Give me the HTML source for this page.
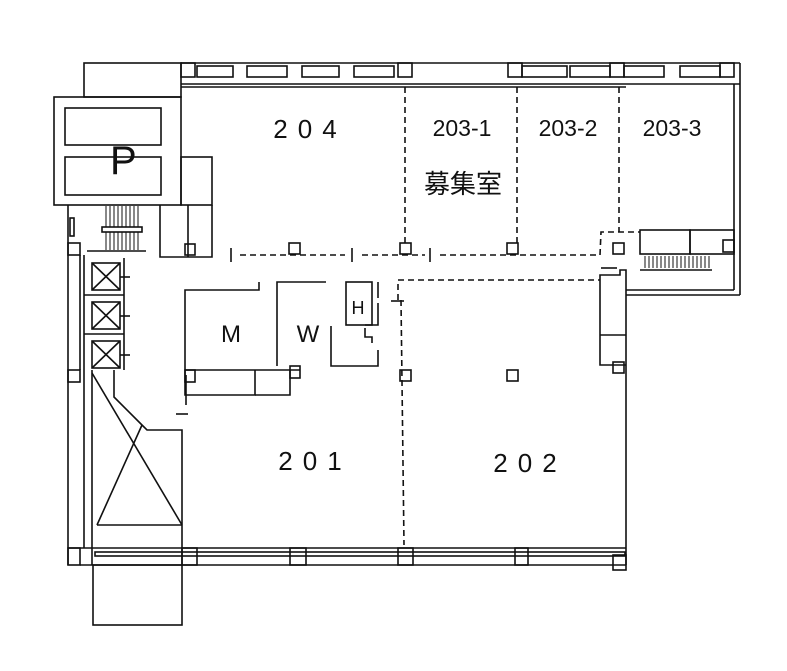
<!DOCTYPE html>
<html><head><meta charset="utf-8"><style>
html,body{margin:0;padding:0;background:#fff;}
svg{display:block}
text{font-family:"Liberation Sans","Noto Sans CJK JP",sans-serif;fill:#111}
</style></head><body>
<svg width="787" height="671" viewBox="0 0 787 671" xmlns="http://www.w3.org/2000/svg">
<g fill="none" stroke="#111" stroke-width="1.6">
<!-- top wall band -->
<line x1="181" y1="63" x2="740" y2="63"/>
<line x1="181" y1="84" x2="740" y2="84"/>
<line x1="181" y1="87" x2="626" y2="87"/>
<rect x="181" y="63" width="14" height="14"/>
<rect x="197" y="66" width="36" height="11"/>
<rect x="247" y="66" width="40" height="11"/>
<rect x="302" y="66" width="37" height="11"/>
<rect x="354" y="66" width="40" height="11"/>
<rect x="398" y="63" width="14" height="14"/>
<rect x="508" y="63" width="14" height="14"/>
<rect x="522" y="66" width="45" height="11"/>
<rect x="570" y="66" width="40" height="11"/>
<rect x="610" y="63" width="14" height="14"/>
<rect x="624" y="66" width="40" height="11"/>
<rect x="680" y="66" width="40" height="11"/>
<rect x="720" y="63" width="14" height="14"/>
<!-- right wall -->
<line x1="740" y1="63" x2="740" y2="295"/>
<line x1="734" y1="84" x2="734" y2="290"/>
<line x1="626" y1="295" x2="740" y2="295"/>
<line x1="626" y1="290" x2="734" y2="290"/>
<!-- top-left boxes -->
<rect x="84" y="63" width="97" height="34"/>
<rect x="54" y="97" width="127" height="108"/>
<rect x="65" y="108" width="96" height="37"/>
<rect x="65" y="157" width="96" height="38"/>
<rect x="181" y="157" width="31" height="48"/>
<polyline points="160,205 160,257 212,257 212,205"/>
<line x1="188" y1="205" x2="188" y2="257"/>
<rect x="185" y="244" width="10" height="11"/>
<!-- stair below P -->
<g stroke-width="1">
<line x1="106" y1="206" x2="106" y2="250"/><line x1="110" y1="206" x2="110" y2="250"/>
<line x1="114" y1="206" x2="114" y2="250"/><line x1="118" y1="206" x2="118" y2="250"/>
<line x1="122" y1="206" x2="122" y2="250"/><line x1="126" y1="206" x2="126" y2="250"/>
<line x1="130" y1="206" x2="130" y2="250"/><line x1="134" y1="206" x2="134" y2="250"/>
<line x1="138" y1="206" x2="138" y2="250"/>
</g>
<rect x="102" y="227" width="40" height="5" fill="#fff"/>
<line x1="87" y1="251" x2="146" y2="251"/>
<!-- left wall -->
<line x1="68" y1="205" x2="68" y2="565"/>
<line x1="80" y1="255" x2="80" y2="370"/>
<rect x="68" y="243" width="12" height="12"/>
<rect x="70" y="218" width="4" height="18"/>
<rect x="68" y="370" width="12" height="12"/>
<line x1="84" y1="255" x2="84" y2="370"/>
<!-- elevators -->
<rect x="92" y="263" width="28" height="27"/>
<line x1="92" y1="263" x2="120" y2="290"/><line x1="120" y1="263" x2="92" y2="290"/>
<rect x="92" y="302" width="28" height="27"/>
<line x1="92" y1="302" x2="120" y2="329"/><line x1="120" y1="302" x2="92" y2="329"/>
<rect x="92" y="341" width="28" height="27"/>
<line x1="92" y1="341" x2="120" y2="368"/><line x1="120" y1="341" x2="92" y2="368"/>
<line x1="84" y1="295" x2="124" y2="295"/><line x1="84" y1="334" x2="124" y2="334"/>
<line x1="124" y1="258" x2="124" y2="370"/>
<line x1="120" y1="277" x2="130" y2="277"/><line x1="120" y1="316" x2="130" y2="316"/><line x1="120" y1="355" x2="130" y2="355"/>
<!-- escalator / triangle -->
<line x1="92" y1="370" x2="92" y2="565"/>
<line x1="84" y1="370" x2="84" y2="548"/>
<polyline points="114,370 114,397 142,425 147,430 182,430 182,565"/>
<line x1="92" y1="373" x2="182" y2="525"/>
<line x1="142" y1="425" x2="97" y2="525"/>
<line x1="97" y1="525" x2="182" y2="525"/>
<line x1="176" y1="414" x2="188" y2="414"/>
<!-- corridor dashed line -->
<line x1="231" y1="248" x2="231" y2="262"/>
<line x1="352" y1="248" x2="352" y2="262"/>
<line x1="430" y1="248" x2="430" y2="262"/>
<g stroke-dasharray="6,4">
<line x1="240" y1="255" x2="345" y2="255"/>
<line x1="362" y1="255" x2="425" y2="255"/>
<line x1="440" y1="255" x2="600" y2="255"/>
<line x1="405" y1="87" x2="405" y2="245"/>
<line x1="517" y1="87" x2="517" y2="245"/>
<line x1="619" y1="87" x2="619" y2="232"/>
<polyline points="600,255 601,232 640,232"/>
<polyline points="398,300 398,280 600,280"/>
<line x1="401" y1="300" x2="404" y2="545"/>
</g>
<line x1="391" y1="301" x2="404" y2="301"/>
<line x1="601" y1="268" x2="617" y2="268"/>
<!-- columns -->
<rect x="289" y="243" width="11" height="11"/>
<rect x="400" y="243" width="11" height="11"/>
<rect x="507" y="243" width="11" height="11"/>
<rect x="613" y="243" width="11" height="11"/>
<rect x="400" y="370" width="11" height="11"/>
<rect x="507" y="370" width="11" height="11"/>
<rect x="613" y="362" width="11" height="11"/>
<!-- right wing stair -->
<rect x="640" y="230" width="50" height="24"/>
<rect x="690" y="230" width="44" height="24"/>
<rect x="723" y="240" width="11" height="12"/>
<g stroke-width="1">
<line x1="645" y1="256" x2="645" y2="268"/><line x1="649" y1="256" x2="649" y2="268"/><line x1="653" y1="256" x2="653" y2="268"/><line x1="657" y1="256" x2="657" y2="268"/><line x1="661" y1="256" x2="661" y2="268"/><line x1="665" y1="256" x2="665" y2="268"/><line x1="669" y1="256" x2="669" y2="268"/><line x1="673" y1="256" x2="673" y2="268"/><line x1="677" y1="256" x2="677" y2="268"/><line x1="681" y1="256" x2="681" y2="268"/><line x1="685" y1="256" x2="685" y2="268"/><line x1="689" y1="256" x2="689" y2="268"/><line x1="693" y1="256" x2="693" y2="268"/><line x1="697" y1="256" x2="697" y2="268"/><line x1="701" y1="256" x2="701" y2="268"/><line x1="705" y1="256" x2="705" y2="268"/><line x1="709" y1="256" x2="709" y2="268"/>
</g>
<line x1="640" y1="270" x2="712" y2="270"/>
<!-- main right wall & column block -->
<polyline points="610,275 620,275 620,270 626,270 626,565"/>
<polyline points="610,275 600,275 600,365 626,365"/>
<line x1="600" y1="335" x2="626" y2="335"/>
<!-- toilet block -->
<polyline points="259,282 259,290 185,290 185,370"/>
<polyline points="326,282 277,282 277,366"/>
<rect x="346" y="282" width="26" height="43"/>
<polyline points="378,282 378,298"/>
<polyline points="378,303 378,325 365,325"/>
<polyline points="331,326 331,366 378,366 378,350"/>
<polyline points="365,328 365,337 372,337 372,343"/>
<line x1="185" y1="370" x2="300" y2="370"/>
<rect x="185" y="370" width="10" height="12"/>
<rect x="290" y="366" width="10" height="12"/>
<polyline points="185,370 185,395 255,395 255,370"/>
<polyline points="255,395 290,395 290,370"/>
<line x1="186" y1="375" x2="186" y2="405"/>
<!-- bottom wall -->
<line x1="68" y1="548" x2="626" y2="548"/>
<line x1="80" y1="565" x2="626" y2="565"/>
<rect x="95" y="552" width="530" height="4"/>
<rect x="68" y="548" width="12" height="17"/>
<rect x="182" y="548" width="15" height="17"/>
<rect x="290" y="548" width="16" height="17"/>
<rect x="398" y="548" width="15" height="17"/>
<rect x="515" y="548" width="13" height="17"/>
<rect x="613" y="555" width="13" height="15"/>
<rect x="93" y="565" width="89" height="60"/>
</g>
<!-- labels -->
<text x="110" y="174" font-size="40">P</text>
<text x="310" y="138" font-size="26" text-anchor="middle" letter-spacing="10">204</text>
<text x="462" y="136" font-size="23" text-anchor="middle">203-1</text>
<text x="568" y="136" font-size="23" text-anchor="middle">203-2</text>
<text x="672" y="136" font-size="23" text-anchor="middle">203-3</text>
<text x="463" y="193" font-size="26" text-anchor="middle">募集室</text>
<text x="231" y="342" font-size="24" text-anchor="middle">M</text>
<text x="308" y="342" font-size="24" text-anchor="middle">W</text>
<text x="358" y="314" font-size="18" text-anchor="middle">H</text>
<text x="315" y="470" font-size="26" text-anchor="middle" letter-spacing="10">201</text>
<text x="530" y="472" font-size="26" text-anchor="middle" letter-spacing="10">202</text>
</svg>
</body></html>
